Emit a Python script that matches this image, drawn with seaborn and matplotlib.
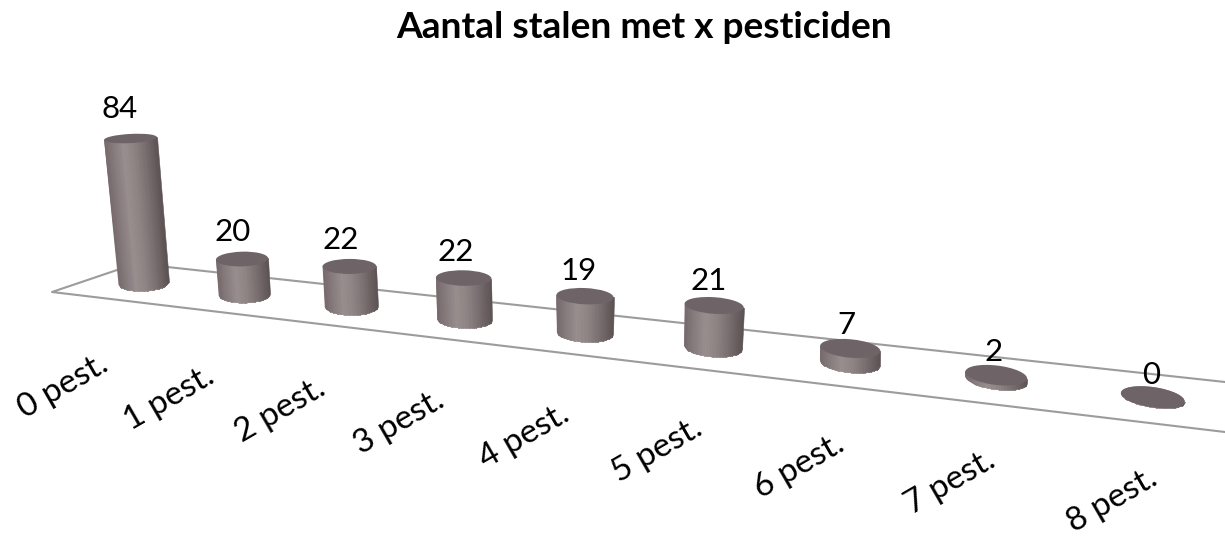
import numpy as np
import matplotlib
matplotlib.use("Agg")
import matplotlib.pyplot as plt
import seaborn as sns
from matplotlib.colors import LinearSegmentedColormap
from matplotlib.patches import Ellipse
from matplotlib.transforms import Transform

# data
categories = ["0 pest.", "1 pest.", "2 pest.", "3 pest.", "4 pest.",
              "5 pest.", "6 pest.", "7 pest.", "8 pest."]
values = [84, 20, 22, 22, 19, 21, 7, 2, 0]
title = "Aantal stalen met x pesticiden"

BAR_WIDTH = 0.8
side_cmap = LinearSegmentedColormap.from_list(
    "cyl",
    [(0, "#76696c"), (0.15, "#857a7c"), (0.35, "#9a8f8f"), (0.55, "#8f8484"),
     (0.8, "#746a6c"), (1, "#5c5254")],
)


# perspective of the office-style 3d floor, all in image pixels
def depth(i):
    return 1 / (1 - 0.0278 * i)

def base_x(i):
    return 143.5 + 98.1 * i * depth(i)

def base_y(i):
    return 283 + 11.1 * i * depth(i)

def half_w(i):
    return 25 * depth(i)

def unit_h(i):
    return 1.72 * depth(i)

def lean(i):
    return -0.09 + 0.0225 * np.minimum(i, 5)

def tilt(i):
    return -3 + 1.4 * i

def radius_y(i, h=0):
    return 7.9 + 0.27 * i - 0.023 * h


class FloorProjection(Transform):
    input_dims = 2
    output_dims = 2

    def transform_non_affine(self, xy):
        xy = np.asarray(xy, dtype=float)
        i = np.round(xy[:, 0])
        off = (xy[:, 0] - i) / (BAR_WIDTH / 2)
        h = xy[:, 1] * unit_h(i)
        w = half_w(i) * (1 + 0.0004 * np.maximum(h, 0))
        x = base_x(i) + lean(i) * h + off * w
        y = base_y(i) - h + off * w * np.tan(np.radians(tilt(i)))
        return np.column_stack([x, y])


sns.set_theme(style="white")
plt.rcParams["font.family"] = ["Lato", "DejaVu Sans"]

fig = plt.figure(figsize=(12.25, 5.41), dpi=100)
ax = fig.add_axes([0, 0, 1, 1])

sns.barplot(x=np.arange(len(categories)), y=values, native_scale=True,
            color="#857a7c", saturation=1, width=BAR_WIDTH, ax=ax, zorder=2)
proj = FloorProjection() + ax.transData

# floor outline
ax.plot([136, 52, 1225], [263.6, 292, 432], color="#9c9c9c", lw=1.5, zorder=1)
ax.plot([136, 1225], [263.6, 382], color="#9c9c9c", lw=1.5, zorder=1)

for i, (patch, val) in enumerate(zip(ax.containers[0], values)):
    patch.set_transform(proj)
    patch.set_linewidth(0)

    # solid rounded bottom under the shading so no white shows through
    ax.add_patch(Ellipse((base_x(i), base_y(i)), 2 * half_w(i), 2 * radius_y(i),
                         angle=tilt(i), facecolor="#857a7c", edgecolor="none",
                         zorder=2))

    # shaded side with the rounded bottom edge
    h = val * unit_h(i)
    u = i + np.linspace(-BAR_WIDTH / 2, BAR_WIDTH / 2, 41)
    off = (u - i) / (BAR_WIDTH / 2)
    bottom = -radius_y(i) * np.sqrt(np.clip(1 - off ** 2, 0, 1)) / unit_h(i)
    U = np.vstack([u, u])
    V = np.vstack([bottom, np.full_like(u, val)])
    shade = ((off[:-1] + off[1:]) / 2 + 1) / 2
    ax.pcolormesh(U, V, shade[np.newaxis, :], cmap=side_cmap, vmin=0, vmax=1,
                  shading="flat", transform=proj, antialiased=True,
                  edgecolors="face", linewidth=0.4, zorder=3)

    # top face
    tx, ty = FloorProjection().transform(np.array([[float(i), float(val)]]))[0]
    w = half_w(i) * (1 + 0.0004 * h)
    ax.add_patch(Ellipse((tx, ty), 2 * w, 2 * radius_y(i, h), angle=tilt(i),
                         facecolor="#6e6366", edgecolor="none", zorder=4))

    # value and category labels
    ax.text(tx - 11 + 1.2 * i, ty - 26.5 - 0.02 * h + 0.5 * i, str(val),
            fontsize=22.5, color="black", ha="center", va="center", zorder=5)
    ax.text(base_x(i) - 38 + 5 * i, base_y(i) + 79 - 0.1 * i, categories[i],
            fontsize=24, color="black", rotation=30,
            rotation_mode="anchor", ha="right", va="center", zorder=5)

ax.text(644, 28, title, fontsize=26.7, fontweight="bold", color="black",
        ha="center", va="center")

ax.set_xlim(0, 1225)
ax.set_ylim(541, 0)
ax.axis("off")

fig.savefig("out.png", dpi=100, facecolor="white")
